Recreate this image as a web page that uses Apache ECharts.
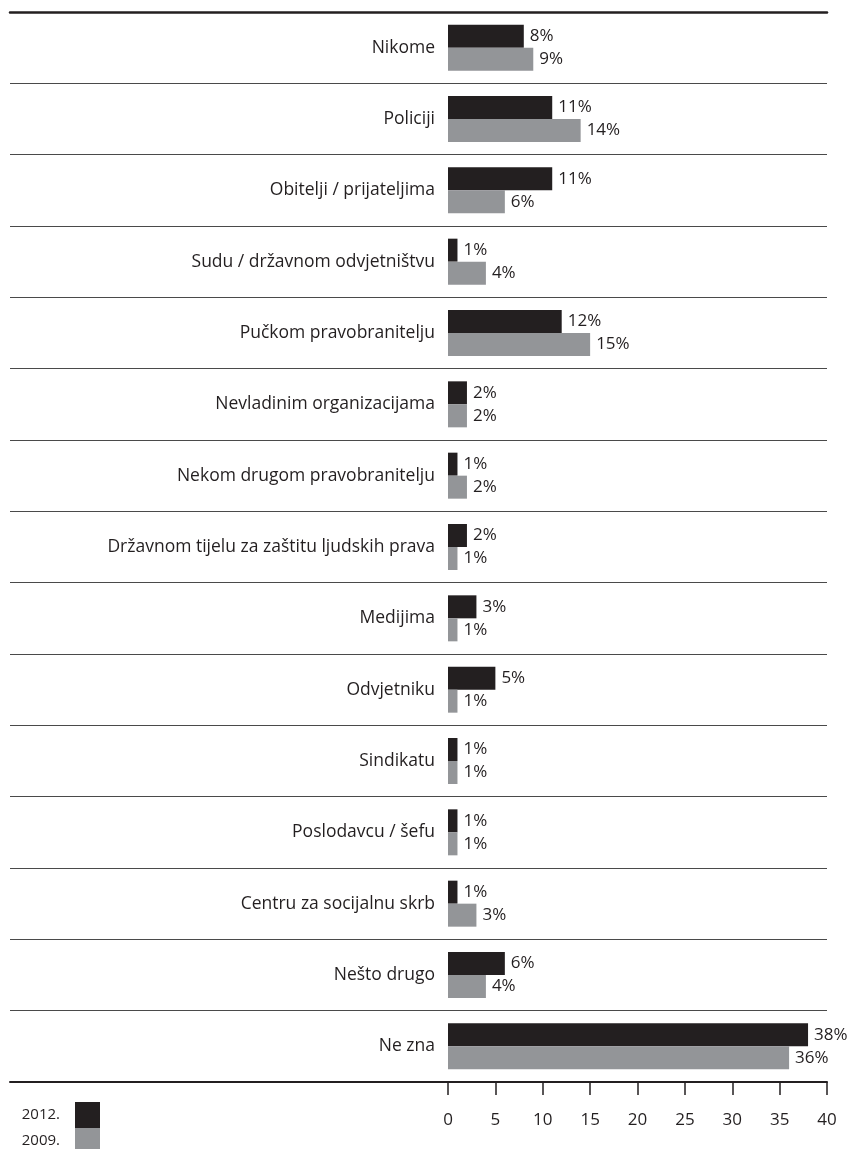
<!DOCTYPE html>
<html>
<head>
<meta charset="utf-8">
<script src="https://cdn.jsdelivr.net/npm/echarts@6/dist/echarts.min.js"></script>
<style>html,body{margin:0;padding:0;background:#fff}#c{width:854px;height:1149px}</style>
</head>
<body>
<div id="c"></div>
<script>
const categories = ["Nikome","Policiji","Obitelji / prijateljima","Sudu / državnom odvjetništvu","Pučkom pravobranitelju","Nevladinim organizacijama","Nekom drugom pravobranitelju","Državnom tijelu za zaštitu ljudskih prava","Medijima","Odvjetniku","Sindikatu","Poslodavcu / šefu","Centru za socijalnu skrb","Nešto drugo","Ne zna"];
const values2012 = [8,11,11,1,12,2,1,2,3,5,1,1,1,6,38];
const values2009 = [9,14,6,4,15,2,2,1,1,1,1,1,3,4,36];
const seriesNames = ["2012","2009"];
const axisMin = 0, axisMax = 40, axisStep = 5;

const DARK = '#231f20', GRAY = '#939598', FONT = 'Open Sans';
const chart = echarts.init(document.getElementById('c'));
const lbl = {show:true, position:'right', distance:6, formatter:'{c}%', color:DARK, fontFamily:FONT, fontSize:17};
const legendBase = {orient:'vertical', align:'right', right:754, itemWidth:25, itemHeight:26, itemGap:0, padding:0,
  icon:'rect', formatter:'{name}.', textStyle:{color:DARK, fontFamily:FONT, fontSize:15, padding:[0,10,0,0]}};
chart.setOption({
  animation:false,
  grid:[
    {left:10, right:27, top:12, bottom:67},
    {left:448, right:27, top:12, bottom:67}
  ],
  xAxis:[
    {gridIndex:0, type:'value', min:0, max:1, position:'bottom', axisLine:{show:true, lineStyle:{color:DARK, width:2}}, axisTick:{show:false}, axisLabel:{show:false}, splitLine:{show:false}},
    {gridIndex:0, type:'value', min:0, max:1, position:'top', axisLine:{show:true, lineStyle:{color:DARK, width:2.5}}, axisTick:{show:false}, axisLabel:{show:false}, splitLine:{show:false}},
    {gridIndex:1, type:'value', min:axisMin, max:axisMax, interval:axisStep, position:'bottom',
     axisLine:{show:false}, axisTick:{show:true, length:13, lineStyle:{color:DARK, width:1.5}},
     axisLabel:{margin:30, color:DARK, fontFamily:FONT, fontSize:17}, splitLine:{show:false}}
  ],
  yAxis:[
    {gridIndex:0, type:'category', data:categories, inverse:true, axisLine:{show:false}, axisTick:{show:false}, axisLabel:{show:false},
     splitLine:{show:true, interval:0, lineStyle:{color:'#4a4a4a', width:1.2}}},
    {gridIndex:1, type:'category', data:categories, inverse:true, axisLine:{show:false}, axisTick:{show:false},
     axisLabel:{margin:13, color:DARK, fontFamily:FONT, fontSize:17.5}}
  ],
  legend:[
    Object.assign({}, legendBase, {data:[seriesNames[0]], top:1102}),
    Object.assign({}, legendBase, {data:[seriesNames[1]], top:1128})
  ],
  series:[
    {name:seriesNames[0], type:'bar', xAxisIndex:2, yAxisIndex:1, data:values2012, barWidth:23, barGap:'0%', itemStyle:{color:DARK}, label:lbl},
    {name:seriesNames[1], type:'bar', xAxisIndex:2, yAxisIndex:1, data:values2009, barWidth:23, barGap:'0%', itemStyle:{color:GRAY}, label:lbl}
  ]
});
</script>
</body>
</html>
